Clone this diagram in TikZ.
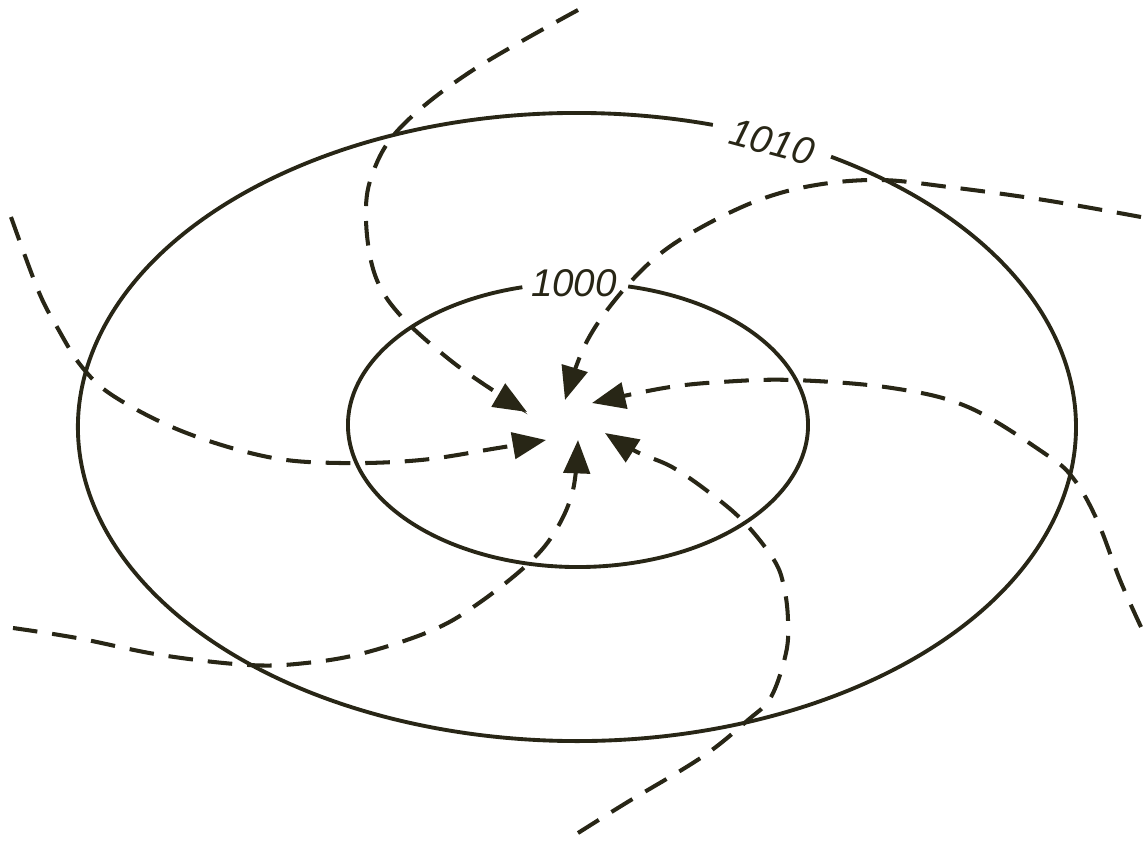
\documentclass[tikz,border=0pt]{standalone}
\usepackage{fontspec}
\setmainfont{Liberation Sans}
\usetikzlibrary{arrows.meta}
\definecolor{ink}{RGB}{40,38,22}
\begin{document}
\begin{tikzpicture}[x=0.02cm,y=-0.02cm,
  isobar/.style={draw=ink,line width=2.2pt},
  flow/.style={draw=ink,line width=2.3pt,dash pattern=on 14pt off 8.5pt,
    -{Triangle[length=19pt,width=15pt]}},
  lbl/.style={text=ink,font=\fontsize{22}{24}\selectfont\itshape,inner sep=0pt}]
\useasboundingbox (0,0) rectangle (1147,842);
% isobars (ellipses with gaps for labels)
\coordinate (oc) at (577,427);
\coordinate (ic) at (578,425);
\draw[isobar] (oc) ++(74.2:499 and -314) arc[start angle=74.2,end angle=419.4,x radius=499,y radius=-314];
\draw[isobar] (ic) ++(104:230 and -142) arc[start angle=104,end angle=437.4,x radius=230,y radius=-142];
\node[lbl,rotate=-15] (l1010) at (772,142) {1010};
\node[lbl] (l1000) at (574,283) {1000};
% wind arrows
\coordinate (s1) at (578,10);   \coordinate (t1) at (527,412);
\coordinate (s2) at (1141,217); \coordinate (t2) at (565,400);
\coordinate (s3) at (11,217);   \coordinate (t3) at (546,440);
\coordinate (s4) at (1141,627); \coordinate (t4) at (592,403);
\coordinate (s5) at (13,628);   \coordinate (t5) at (578,440);
\coordinate (s6) at (578,833);  \coordinate (t6) at (605,433);
\draw[flow] plot[smooth,tension=0.6] coordinates {(s1) (470,72) (400,128) (372,175) (366,220) (375,275) (400,315) (450,360) (500,395) (t1)};
\draw[flow] plot[smooth,tension=0.6] coordinates {(s2) (1044,200) (949,187) (880,180) (816,185) (759,200) (700,228) (655,258) (615,300) (585,345) (t2)};
\draw[flow] plot[smooth,tension=0.6] coordinates {(s3) (38,290) (57,327) (82,367) (115,397) (184,432) (268,457) (340,463) (421,460) (498,448) (t3)};
\draw[flow] plot[smooth,tension=0.6] coordinates {(s4) (1120,580) (1097,520) (1073,478) (1044,453) (968,407) (892,388) (793,380) (721,382) (664,388) (t4)};
\draw[flow] plot[smooth,tension=0.6] coordinates {(s5) (77,638) (161,655) (249,665) (306,663) (364,653) (433,630) (479,603) (529,563) (556,530) (573,490) (t5)};
\draw[flow] plot[smooth,tension=0.6] coordinates {(s6) (626,803) (702,757) (748,720) (771,697) (786,653) (788,620) (784,587) (774,560) (744,522) (710,493) (672,467) (637,452) (t6)};
\end{tikzpicture}
\end{document}
